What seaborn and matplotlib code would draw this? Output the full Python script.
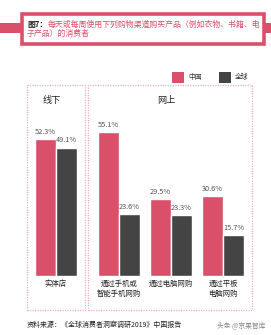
import matplotlib
matplotlib.use("Agg")
import matplotlib.pyplot as plt
from matplotlib.patches import Rectangle
import pandas as pd
import seaborn as sns

# ---- data ----
offline_categories = ["实体店"]
online_categories = ["通过手机或\n智能手机网购", "通过电脑网购", "通过平板\n电脑网购"]
regions = ["中国", "全球"]
china_values = [52.3, 55.1, 29.5, 30.6]
global_values = [49.1, 23.6, 23.3, 15.7]
panel_titles = ["线下", "网上"]
title_prefix = "图7："
title_line1 = "每天或每周使用下列购物渠道购买产品（例如衣物、书籍、电"
title_line2 = "子产品）的消费者"
source_text = "资料来源：《全球消费者洞察调研2019》中国报告"
watermark = "头条 @京果智库"

PINK = "#DA4F69"
DARK = "#444444"
LIGHT_PINK = "#F3AFC0"

sns.set_style("white")
plt.rcParams["font.family"] = ["Noto Sans CJK SC", "DejaVu Sans"]

W, H = 271, 335
fig = plt.figure(figsize=(W / 100, H / 100), dpi=100)
fig.patch.set_facecolor("white")


def fx(px):
    return px / W


def fy(py):
    return 1 - py / H


def rect(x0, y0, x1, y1, **kw):
    fig.patches.append(Rectangle((fx(x0), fy(y1)), fx(x1) - fx(x0), (y1 - y0) / H,
                                 transform=fig.transFigure, **kw))


# ---- title box ----
rect(0, 23, 22, 33, facecolor=PINK, edgecolor="none")
rect(263, 23, 271, 33, facecolor=PINK, edgecolor="none")
rect(21.5, 13.5, 264, 44, facecolor="white", edgecolor=PINK, linewidth=2.6)
fig.text(fx(27), fy(24), title_prefix, fontsize=5.6, color="#222222",
         fontweight="bold", va="center", ha="left")
fig.text(fx(47.5), fy(24), title_line1, fontsize=5.7, color=PINK,
         va="center", ha="left")
fig.text(fx(27), fy(33.5), title_line2, fontsize=5.7, color=PINK,
         va="center", ha="left")

# ---- legend ----
rect(172, 72, 184, 83, facecolor=PINK, edgecolor="none")
fig.text(fx(188), fy(77.5), regions[0], fontsize=4.9, color="#333333",
         va="center", ha="left")
rect(219, 72, 231, 83, facecolor=DARK, edgecolor="none")
fig.text(fx(235), fy(77.5), regions[1], fontsize=4.9, color="#333333",
         va="center", ha="left")

# ---- panel borders ----
for x0, x1 in [(27, 85), (88, 252)]:
    rect(x0, 85, x1, 310, facecolor="none", edgecolor=LIGHT_PINK,
         linewidth=0.9, linestyle=(0, (1, 1)))
fig.text(fx(52), fy(100), panel_titles[0], fontsize=6.6, color="#222222",
         ha="center", va="center")
fig.text(fx(166), fy(100), panel_titles[1], fontsize=6.6, color="#222222",
         ha="center", va="center")

# ---- data frames ----
off_df = pd.DataFrame({
    "channel": offline_categories * 2,
    "region": [regions[0]] * len(offline_categories) + [regions[1]] * len(offline_categories),
    "value": china_values[:1] + global_values[:1],
})
on_df = pd.DataFrame({
    "channel": online_categories * 2,
    "region": [regions[0]] * len(online_categories) + [regions[1]] * len(online_categories),
    "value": china_values[1:] + global_values[1:],
})

base = 276
ppu = 2.61
ymax = 60
ax_h = ymax * ppu / H


def draw(ax, df, order):
    sns.barplot(data=df, x="channel", y="value", hue="region", order=order,
                hue_order=regions, palette=[PINK, DARK], width=0.8,
                saturation=1, legend=False, ax=ax, errorbar=None)
    ax.set_ylim(0, ymax)
    ax.set_xlim(-0.5, len(order) - 0.5)
    for c in ax.containers:
        ax.bar_label(c, fmt="%.1f%%", padding=2.5, fontsize=5.3, color="#555555")
    for s in ax.spines.values():
        s.set_visible(False)
    ax.set_yticks([])
    ax.set_xlabel("")
    ax.set_ylabel("")
    ax.tick_params(axis="x", length=0, pad=2.5, labelsize=5.3, colors="#222222")
    for lbl in ax.get_xticklabels():
        lbl.set_linespacing(1.35)
    ax.patch.set_alpha(0)


ax1 = fig.add_axes([fx(29.75), fy(base), 52.5 / W, ax_h])
draw(ax1, off_df, offline_categories)
ax2 = fig.add_axes([fx(93), fy(base), 156 / W, ax_h])
draw(ax2, on_df, online_categories)

# ---- footer ----
fig.text(fx(27), fy(325), source_text, fontsize=5.0, color="#222222",
         ha="left", va="center")
fig.text(fx(265), fy(325), watermark, fontsize=4.9, color="#888888",
         ha="right", va="center")

fig.savefig("out.png", dpi=100, facecolor="white")
